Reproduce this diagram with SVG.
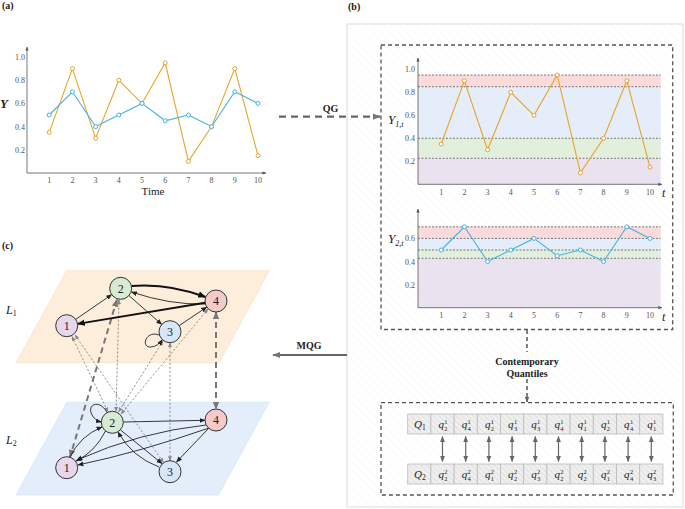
<svg xmlns="http://www.w3.org/2000/svg" width="685" height="509" viewBox="0 0 685 509">
<defs>
<style>
.lbl{font-family:"Liberation Serif",serif;font-weight:bold;font-size:10px;fill:#222}
.tk{font-family:"Liberation Serif",serif;font-size:8px;fill:#555}
.ax{stroke:#555;stroke-width:0.8;fill:none}
.s1{stroke:#E6A52C;stroke-width:1.1;fill:none}
.s2{stroke:#45B3E6;stroke-width:1.1;fill:none}
.p1{stroke:#E6A52C;stroke-width:1;fill:#fff}
.p2{stroke:#45B3E6;stroke-width:1;fill:#fff}
.qd{stroke:#444;stroke-width:0.7;stroke-dasharray:2,1.5}
.it{font-family:"Liberation Serif",serif;font-style:italic;fill:#222}
.node circle{stroke:#333;stroke-width:1}
.node text{font-family:"Liberation Serif",serif;font-size:12px;fill:#222;text-anchor:middle}
.e{stroke:#222;stroke-width:0.9;fill:none;marker-end:url(#ah)}
.eb{stroke:#111;stroke-width:1.9;fill:none;marker-end:url(#ahb)}
.dt{stroke:#888;stroke-width:0.9;fill:none;stroke-dasharray:2.2,1.8;marker-start:url(#ahg);marker-end:url(#ahg)}
.dk{stroke:#777;stroke-width:2;fill:none;stroke-dasharray:6,4;marker-start:url(#ahG);marker-end:url(#ahG)}
.box{fill:none;stroke:#555;stroke-width:1.3;stroke-dasharray:4,3}
.cell{fill:url(#hatch);stroke:#bbb;stroke-width:0.8}
.q{font-family:"Liberation Serif",serif;font-style:italic;font-size:11px;fill:#222}
.qs{font-family:"Liberation Serif",serif;font-size:6.5px;fill:#222}
.va{stroke:#666;stroke-width:1.2;marker-start:url(#ahq);marker-end:url(#ahq)}
</style>
<marker id="ah" viewBox="0 0 10 10" refX="9" refY="5" markerWidth="6" markerHeight="6" markerUnits="userSpaceOnUse" orient="auto-start-reverse"><path d="M0,1 L10,5 L0,9 z" fill="#222"/></marker>
<marker id="ahb" viewBox="0 0 10 10" refX="9" refY="5" markerWidth="8" markerHeight="8" markerUnits="userSpaceOnUse" orient="auto-start-reverse"><path d="M0,1 L10,5 L0,9 z" fill="#111"/></marker>
<marker id="ahg" viewBox="0 0 10 10" refX="9" refY="5" markerWidth="5" markerHeight="5" markerUnits="userSpaceOnUse" orient="auto-start-reverse"><path d="M0,1 L10,5 L0,9 z" fill="#888"/></marker>
<marker id="ahG" viewBox="0 0 10 10" refX="9" refY="5" markerWidth="8" markerHeight="8" markerUnits="userSpaceOnUse" orient="auto-start-reverse"><path d="M0,1 L10,5 L0,9 z" fill="#777"/></marker>
<marker id="ahq" viewBox="0 0 10 10" refX="9" refY="5" markerWidth="6" markerHeight="6" markerUnits="userSpaceOnUse" orient="auto-start-reverse"><path d="M0,1 L10,5 L0,9 z" fill="#666"/></marker>
<marker id="axa" viewBox="0 0 10 10" refX="9" refY="5" markerWidth="4" markerHeight="4" markerUnits="userSpaceOnUse" orient="auto"><path d="M0,1 L10,5 L0,9 z" fill="#555"/></marker>
<pattern id="hatch" width="4" height="4" patternUnits="userSpaceOnUse" patternTransform="rotate(-45)"><rect width="4" height="4" fill="#efefef"/><line x1="0" y1="0" x2="0" y2="4" stroke="#d4d4d4" stroke-width="1"/></pattern>
<pattern id="bgh" width="6" height="6" patternUnits="userSpaceOnUse" patternTransform="rotate(-45)"><rect width="6" height="6" fill="#fff"/><line x1="0" y1="0" x2="0" y2="6" stroke="#f6f6f6" stroke-width="1"/></pattern>
</defs>
<rect width="685" height="509" fill="#fff"/>

<!-- section labels -->
<text class="lbl" x="2" y="9">(a)</text>
<text class="lbl" x="348" y="9.5">(b)</text>
<text class="lbl" x="2" y="249">(c)</text>

<!-- ===== Panel (a) ===== -->
<g id="chart-a">
<line class="ax" x1="27" y1="173" x2="27" y2="47" marker-end="url(#axa)"/>
<line class="ax" x1="27" y1="173" x2="266" y2="173" marker-end="url(#axa)"/>
<g class="tk" text-anchor="end">
<text x="25" y="60">1.0</text><text x="25" y="83.2">0.8</text><text x="25" y="106.4">0.6</text><text x="25" y="129.6">0.4</text><text x="25" y="152.8">0.2</text>
</g>
<g class="tk" text-anchor="middle">
<text x="49.2" y="183">1</text><text x="72.4" y="183">2</text><text x="95.6" y="183">3</text><text x="118.8" y="183">4</text><text x="142" y="183">5</text><text x="165.2" y="183">6</text><text x="188.4" y="183">7</text><text x="211.6" y="183">8</text><text x="234.8" y="183">9</text><text x="258" y="183">10</text>
</g>
<text x="153" y="195" font-family="Liberation Serif, serif" font-size="11" fill="#222" text-anchor="middle">Time</text>
<text x="0" y="108" font-family="Liberation Serif, serif" font-size="13" font-weight="bold" font-style="italic" fill="#222">Y</text>
<polyline class="s1" points="49.2,132.4 72.4,68.6 95.6,138.2 118.8,80.2 142,103.4 165.2,62.8 188.4,161.4 211.6,126.6 234.8,68.6 258,155.6"/>
<polyline class="s2" points="49.2,115 72.4,91.8 95.6,126.6 118.8,115 142,103.4 165.2,120.8 188.4,115 211.6,126.6 234.8,91.8 258,103.4"/>
<g class="p1">
<circle cx="49.2" cy="132.4" r="2"/><circle cx="72.4" cy="68.6" r="2"/><circle cx="95.6" cy="138.2" r="2"/><circle cx="118.8" cy="80.2" r="2"/><circle cx="142" cy="103.4" r="2"/><circle cx="165.2" cy="62.8" r="2"/><circle cx="188.4" cy="161.4" r="2"/><circle cx="211.6" cy="126.6" r="2"/><circle cx="234.8" cy="68.6" r="2"/><circle cx="258" cy="155.6" r="2"/>
</g>
<g class="p2">
<circle cx="49.2" cy="115" r="2"/><circle cx="72.4" cy="91.8" r="2"/><circle cx="95.6" cy="126.6" r="2"/><circle cx="118.8" cy="115" r="2"/><circle cx="142" cy="103.4" r="2"/><circle cx="165.2" cy="120.8" r="2"/><circle cx="188.4" cy="115" r="2"/><circle cx="211.6" cy="126.6" r="2"/><circle cx="234.8" cy="91.8" r="2"/><circle cx="258" cy="103.4" r="2"/>
</g>
</g>

<!-- ===== Panel (b) ===== -->
<rect x="347" y="24" width="336" height="483" fill="url(#bgh)" stroke="#dcdcdc" stroke-width="1"/>
<rect class="box" x="381" y="45" width="291.7" height="284.5"/>

<!-- QG / MQG arrows -->
<g id="panel-arrows">
<line x1="279" y1="116.7" x2="380" y2="116.7" stroke="#666" stroke-width="2.2" stroke-dasharray="7,5" marker-end="url(#ahG)"/>
<text class="lbl" x="330.5" y="112" text-anchor="middle">QG</text>
<line x1="347" y1="355" x2="273" y2="355" stroke="#666" stroke-width="1.8" marker-end="url(#ahG)"/>
<text class="lbl" x="309" y="349" text-anchor="middle">MQG</text>
</g>

<g id="chart-b1">
<rect x="418" y="75" width="242.7" height="11.7" fill="#FADADA"/>
<rect x="418" y="86.7" width="242.7" height="51.6" fill="#E4EDF9"/>
<rect x="418" y="138.3" width="242.7" height="20" fill="#E2EFDD"/>
<rect x="418" y="158.3" width="242.7" height="26" fill="#EAE2EF"/>
<line class="qd" x1="418" y1="75" x2="660.7" y2="75"/>
<line class="qd" x1="418" y1="86.7" x2="660.7" y2="86.7"/>
<line class="qd" x1="418" y1="138.3" x2="660.7" y2="138.3"/>
<line class="qd" x1="418" y1="158.3" x2="660.7" y2="158.3"/>
<line class="ax" x1="418" y1="184.3" x2="418" y2="58" marker-end="url(#axa)"/>
<line class="ax" x1="418" y1="184.3" x2="662" y2="184.3" marker-end="url(#axa)"/>
<g class="tk" text-anchor="end">
<text x="415" y="72.3">1.0</text><text x="415" y="95.3">0.8</text><text x="415" y="118.3">0.6</text><text x="415" y="141.3">0.4</text><text x="415" y="164.3">0.2</text>
</g>
<g class="tk" text-anchor="middle">
<text x="441.2" y="194.5">1</text><text x="464.4" y="194.5">2</text><text x="487.6" y="194.5">3</text><text x="510.8" y="194.5">4</text><text x="534" y="194.5">5</text><text x="557.2" y="194.5">6</text><text x="580.4" y="194.5">7</text><text x="603.6" y="194.5">8</text><text x="626.8" y="194.5">9</text><text x="650" y="194.5">10</text>
</g>
<text class="it" x="662" y="197" font-size="12">t</text>
<text class="it" x="388" y="123.5" font-size="13">Y<tspan font-size="8" dy="3">1,t</tspan></text>
<polyline class="s1" points="441.2,144.05 464.4,80.8 487.6,149.8 510.8,92.3 534,115.3 557.2,75.05 580.4,172.8 603.6,138.3 626.8,80.8 650,167.05"/>
<g class="p1">
<circle cx="441.2" cy="144.05" r="2"/><circle cx="464.4" cy="80.8" r="2"/><circle cx="487.6" cy="149.8" r="2"/><circle cx="510.8" cy="92.3" r="2"/><circle cx="534" cy="115.3" r="2"/><circle cx="557.2" cy="75.05" r="2"/><circle cx="580.4" cy="172.8" r="2"/><circle cx="603.6" cy="138.3" r="2"/><circle cx="626.8" cy="80.8" r="2"/><circle cx="650" cy="167.05" r="2"/>
</g>
</g>

<g id="chart-b2">
<rect x="418" y="226.8" width="242.7" height="11.6" fill="#FADADA"/>
<rect x="418" y="238.4" width="242.7" height="11.6" fill="#E4EDF9"/>
<rect x="418" y="250" width="242.7" height="8.3" fill="#E2EFDD"/>
<rect x="418" y="258.3" width="242.7" height="49.4" fill="#EAE2EF"/>
<line class="qd" x1="418" y1="226.8" x2="660.7" y2="226.8"/>
<line class="qd" x1="418" y1="238.4" x2="660.7" y2="238.4"/>
<line class="qd" x1="418" y1="250" x2="660.7" y2="250"/>
<line class="qd" x1="418" y1="258.3" x2="660.7" y2="258.3"/>
<line class="ax" x1="418" y1="307.7" x2="418" y2="209" marker-end="url(#axa)"/>
<line class="ax" x1="418" y1="307.7" x2="662" y2="307.7" marker-end="url(#axa)"/>
<g class="tk" text-anchor="end">
<text x="415" y="241.4">0.6</text><text x="415" y="264.5">0.4</text><text x="415" y="287.6">0.2</text>
</g>
<g class="tk" text-anchor="middle">
<text x="441.2" y="318">1</text><text x="464.4" y="318">2</text><text x="487.6" y="318">3</text><text x="510.8" y="318">4</text><text x="534" y="318">5</text><text x="557.2" y="318">6</text><text x="580.4" y="318">7</text><text x="603.6" y="318">8</text><text x="626.8" y="318">9</text><text x="650" y="318">10</text>
</g>
<text class="it" x="662" y="321" font-size="12">t</text>
<text class="it" x="388" y="243" font-size="13">Y<tspan font-size="8" dy="3">2,t</tspan></text>
<polyline class="s2" points="441.2,250 464.4,226.8 487.6,261.5 510.8,250 534,238.4 557.2,255.7 580.4,250 603.6,261.5 626.8,226.8 650,238.4"/>
<g class="p2">
<circle cx="441.2" cy="250" r="2"/><circle cx="464.4" cy="226.8" r="2"/><circle cx="487.6" cy="261.5" r="2"/><circle cx="510.8" cy="250" r="2"/><circle cx="534" cy="238.4" r="2"/><circle cx="557.2" cy="255.7" r="2"/><circle cx="580.4" cy="250" r="2"/><circle cx="603.6" cy="261.5" r="2"/><circle cx="626.8" cy="226.8" r="2"/><circle cx="650" cy="238.4" r="2"/>
</g>
</g>

<!-- Contemporary quantiles arrow -->
<g id="cq-arrow">
<line x1="527" y1="330" x2="527" y2="352" stroke="#555" stroke-width="1.5" stroke-dasharray="4,3"/>
<line x1="527" y1="379" x2="527" y2="402" stroke="#555" stroke-width="1.5" stroke-dasharray="4,3" marker-end="url(#ahq)"/>
<text class="lbl" x="527" y="365" text-anchor="middle">Contemporary</text>
<text class="lbl" x="527" y="377" text-anchor="middle">Quantiles</text>
</g>

<rect class="box" x="381" y="402.7" width="292.3" height="92.3"/>

<g id="table">
<g id="row-q1">
<rect class="cell" x="407.7" y="414" width="23.2" height="20"/><rect class="cell" x="430.9" y="414" width="23.2" height="20"/><rect class="cell" x="454.1" y="414" width="23.2" height="20"/><rect class="cell" x="477.3" y="414" width="23.2" height="20"/><rect class="cell" x="500.5" y="414" width="23.2" height="20"/><rect class="cell" x="523.7" y="414" width="23.2" height="20"/><rect class="cell" x="546.9" y="414" width="23.2" height="20"/><rect class="cell" x="570.1" y="414" width="23.2" height="20"/><rect class="cell" x="593.3" y="414" width="23.2" height="20"/><rect class="cell" x="616.5" y="414" width="23.2" height="20"/><rect class="cell" x="639.7" y="414" width="23.2" height="20"/>
<text class="q" x="414" y="428">Q<tspan font-size="7.5" font-style="normal" dy="2">1</tspan></text>
</g>
<g id="row-q2">
<rect class="cell" x="407.7" y="464" width="23.2" height="20"/><rect class="cell" x="430.9" y="464" width="23.2" height="20"/><rect class="cell" x="454.1" y="464" width="23.2" height="20"/><rect class="cell" x="477.3" y="464" width="23.2" height="20"/><rect class="cell" x="500.5" y="464" width="23.2" height="20"/><rect class="cell" x="523.7" y="464" width="23.2" height="20"/><rect class="cell" x="546.9" y="464" width="23.2" height="20"/><rect class="cell" x="570.1" y="464" width="23.2" height="20"/><rect class="cell" x="593.3" y="464" width="23.2" height="20"/><rect class="cell" x="616.5" y="464" width="23.2" height="20"/><rect class="cell" x="639.7" y="464" width="23.2" height="20"/>
<text class="q" x="414" y="478">Q<tspan font-size="7.5" font-style="normal" dy="2">2</tspan></text>
</g>
<g id="q1-vals">
<text class="q" x="438.5" y="428">q</text><text class="qs" x="444.3" y="424">1</text><text class="qs" x="444.3" y="431">2</text>
<text class="q" x="461.7" y="428">q</text><text class="qs" x="467.5" y="424">1</text><text class="qs" x="467.5" y="431">4</text>
<text class="q" x="484.9" y="428">q</text><text class="qs" x="490.7" y="424">1</text><text class="qs" x="490.7" y="431">2</text>
<text class="q" x="508.1" y="428">q</text><text class="qs" x="513.9" y="424">1</text><text class="qs" x="513.9" y="431">3</text>
<text class="q" x="531.3" y="428">q</text><text class="qs" x="537.1" y="424">1</text><text class="qs" x="537.1" y="431">3</text>
<text class="q" x="554.5" y="428">q</text><text class="qs" x="560.3" y="424">1</text><text class="qs" x="560.3" y="431">4</text>
<text class="q" x="577.7" y="428">q</text><text class="qs" x="583.5" y="424">1</text><text class="qs" x="583.5" y="431">1</text>
<text class="q" x="600.9" y="428">q</text><text class="qs" x="606.7" y="424">1</text><text class="qs" x="606.7" y="431">2</text>
<text class="q" x="624.1" y="428">q</text><text class="qs" x="629.9" y="424">1</text><text class="qs" x="629.9" y="431">4</text>
<text class="q" x="647.3" y="428">q</text><text class="qs" x="653.1" y="424">1</text><text class="qs" x="653.1" y="431">1</text>
</g>
<g id="q2-vals">
<text class="q" x="438.5" y="478">q</text><text class="qs" x="444.3" y="474">2</text><text class="qs" x="444.3" y="481">2</text>
<text class="q" x="461.7" y="478">q</text><text class="qs" x="467.5" y="474">2</text><text class="qs" x="467.5" y="481">4</text>
<text class="q" x="484.9" y="478">q</text><text class="qs" x="490.7" y="474">2</text><text class="qs" x="490.7" y="481">1</text>
<text class="q" x="508.1" y="478">q</text><text class="qs" x="513.9" y="474">2</text><text class="qs" x="513.9" y="481">2</text>
<text class="q" x="531.3" y="478">q</text><text class="qs" x="537.1" y="474">2</text><text class="qs" x="537.1" y="481">3</text>
<text class="q" x="554.5" y="478">q</text><text class="qs" x="560.3" y="474">2</text><text class="qs" x="560.3" y="481">2</text>
<text class="q" x="577.7" y="478">q</text><text class="qs" x="583.5" y="474">2</text><text class="qs" x="583.5" y="481">2</text>
<text class="q" x="600.9" y="478">q</text><text class="qs" x="606.7" y="474">2</text><text class="qs" x="606.7" y="481">1</text>
<text class="q" x="624.1" y="478">q</text><text class="qs" x="629.9" y="474">2</text><text class="qs" x="629.9" y="481">4</text>
<text class="q" x="647.3" y="478">q</text><text class="qs" x="653.1" y="474">2</text><text class="qs" x="653.1" y="481">3</text>
</g>
<g id="table-links">
<line class="va" x1="442.5" y1="436.5" x2="442.5" y2="461.5"/><line class="va" x1="465.7" y1="436.5" x2="465.7" y2="461.5"/><line class="va" x1="488.9" y1="436.5" x2="488.9" y2="461.5"/><line class="va" x1="512.1" y1="436.5" x2="512.1" y2="461.5"/><line class="va" x1="535.3" y1="436.5" x2="535.3" y2="461.5"/><line class="va" x1="558.5" y1="436.5" x2="558.5" y2="461.5"/><line class="va" x1="581.7" y1="436.5" x2="581.7" y2="461.5"/><line class="va" x1="604.9" y1="436.5" x2="604.9" y2="461.5"/><line class="va" x1="628.1" y1="436.5" x2="628.1" y2="461.5"/><line class="va" x1="651.3" y1="436.5" x2="651.3" y2="461.5"/>
</g>
</g>

<!-- ===== Panel (c) ===== -->
<g id="layers">
<polygon points="66.7,270.7 269.3,270.7 219,362.7 16,362.7" fill="#FDEDDB" stroke="#F8DDBE" stroke-width="0.6"/>
<polygon points="66.7,402.3 269.3,402.3 218.3,495 16,495" fill="#E4EEFB" stroke="#CFE0F5" stroke-width="0.6"/>
<text class="it" x="6" y="314" font-size="12">L<tspan font-size="8" font-style="normal" dy="2">1</tspan></text>
<text class="it" x="6" y="444" font-size="12">L<tspan font-size="8" font-style="normal" dy="2">2</tspan></text>
</g>

<g id="connectors">
<!-- inter-layer -->
<line class="dt" x1="72" y1="336.5" x2="108" y2="411.8"/>
<line class="dt" x1="75" y1="335" x2="163.5" y2="462.5"/>
<line class="dt" x1="119" y1="299.5" x2="116" y2="411.5"/>
<line class="dt" x1="163" y1="341" x2="118.5" y2="412"/>
<line class="dt" x1="208" y1="309" x2="121" y2="414"/>
<line class="dt" x1="170" y1="342.7" x2="170" y2="460.7"/>
<line class="dk" x1="117" y1="299.5" x2="70" y2="457"/>
<line class="dk" x1="216" y1="312" x2="216" y2="409"/>
<!-- L1 -->
<line class="e" x1="75.7" y1="319.4" x2="111.7" y2="294.6"/>
<path class="eb" d="M131.5,286 Q168,283 205.5,297"/>
<path class="e" d="M205,304 Q170,305 131.5,292"/>
<line class="eb" x1="205.1" y1="302.8" x2="77.6" y2="323.9"/>
<line class="e" x1="129" y1="295.6" x2="161.7" y2="324.4"/>
<line class="e" x1="179.2" y1="325.6" x2="206.8" y2="307.1"/>
<path class="e" d="M159.8,335.4 C146,329 140,348 151,347 C156,346.5 159.5,344 162.2,339.8"/>
<!-- L2 -->
<path class="e" d="M107,412.5 C100,399 87,404 91.5,414 C93.5,418.5 97,421 101.3,422"/>
<line class="e" x1="123.3" y1="422" x2="205" y2="420.3"/>
<path class="e" d="M206,425 Q140,432 77,460"/>
<path class="e" d="M209,428 Q140,452 78,465"/>
<path class="e" d="M70,457 Q80,436 102,427"/>
<path class="e" d="M105.5,431 Q95,452 76,461"/>
<line class="e" x1="120.5" y1="430" x2="162" y2="463.5"/>
<path class="e" d="M159,467 Q132,457 118,432"/>
<line class="e" x1="208.5" y1="428.5" x2="176.5" y2="462"/>
</g>

<g id="L1-n1" class="node"><circle cx="66.7" cy="325.7" r="11" fill="#E6D7EC"/><text x="66.7" y="330">1</text></g>
<g id="L1-n2" class="node"><circle cx="120.7" cy="288.3" r="11" fill="#D6EBD1"/><text x="120.7" y="292.6">2</text></g>
<g id="L1-n3" class="node"><circle cx="170" cy="331.7" r="11" fill="#D8E7F8"/><text x="170" y="336">3</text></g>
<g id="L1-n4" class="node"><circle cx="216" cy="301" r="11" fill="#F6CACA"/><text x="216" y="305.3">4</text></g>
<g id="L2-n1" class="node"><circle cx="66.7" cy="467.7" r="11" fill="#E6D7EC"/><text x="66.7" y="472">1</text></g>
<g id="L2-n2" class="node"><circle cx="112.3" cy="422.3" r="11" fill="#D6EBD1"/><text x="112.3" y="426.6">2</text></g>
<g id="L2-n3" class="node"><circle cx="170" cy="471.7" r="11" fill="#D8E7F8"/><text x="170" y="476">3</text></g>
<g id="L2-n4" class="node"><circle cx="216" cy="420" r="11" fill="#F6CACA"/><text x="216" y="424.3">4</text></g>
</svg>
